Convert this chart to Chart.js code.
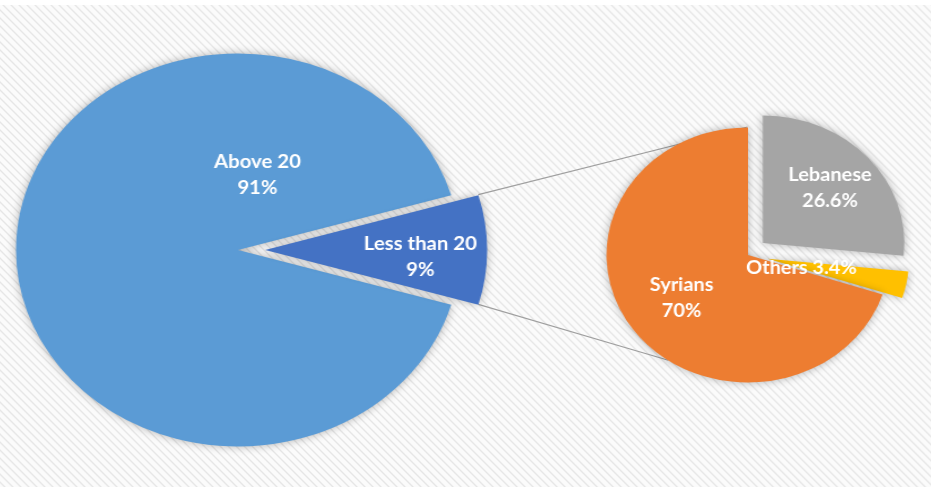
<!DOCTYPE html>
<html lang="en">
<head>
<meta charset="UTF-8">
<title>Age and nationality breakdown</title>
<style>
  html, body { margin: 0; height: 100%; overflow: hidden; }
  body { position: relative; width: 931px; height: 487px; background: #fff; }
  .stripes {
    position: absolute; left: 0; top: 5px; width: 931px; height: 482px;
    background: repeating-linear-gradient(45deg, #fbfbfb 0px, #fbfbfb 2px, #e6e6e6 3.4px, #fbfbfb 4.8px, #fbfbfb 5.66px);
  }
  #links { position: absolute; left: 0; top: 0; z-index: 1; }
  .pie { position: absolute; z-index: 2; }
</style>
<script src="https://cdn.jsdelivr.net/npm/chart.js"></script>
</head>
<body>
<div class="stripes"></div>
<canvas id="links" width="931" height="487"></canvas>
<div class="pie" id="mainBox"><canvas id="mainPie"></canvas></div>
<div class="pie" id="subBox"><canvas id="subPie"></canvas></div>

<script>
// age split (main pie)
const mainLabels = ['Above 20', 'Less than 20'];
const mainValues = [91, 9];
// nationality of the "less than 20" group (secondary pie)
const subLabels = ['Lebanese', 'Others', 'Syrians'];
const subValues = [26.6, 3.4, 70];

const mainColors = ['#5B9BD5', '#4472C4'];
const subColors = ['#A5A5A5', '#FFC000', '#ED7D31'];

// where each pie sits on the page (the original image is stretched sideways)
const mainBox = { left: 3, top: 14.5, size: 470, scaleX: 1.13 };
const subBox = { left: 597.5, top: 104.5, size: 300, scaleX: 1.11 };

function placeBox(id, b) {
    const el = document.getElementById(id);
    el.style.left = b.left + 'px';
    el.style.top = b.top + 'px';
    el.style.width = b.size + 'px';
    el.style.height = b.size + 'px';
    el.style.transform = 'scaleX(' + b.scaleX + ')';
}
placeBox('mainBox', mainBox);
placeBox('subBox', subBox);

// pull exploded slices straight out from the centre
const explode = {
    id: 'explode',
    afterUpdate(chart) {
        const ds = chart.data.datasets[0];
        chart.getDatasetMeta(0).data.forEach((arc, i) => {
            const d = (ds.explode || [])[i] || 0;
            if (!d) return;
            const mid = (arc.startAngle + arc.endAngle) / 2;
            arc.x += Math.cos(mid) * d;
            arc.y += Math.sin(mid) * d;
        });
    }
};

// soft glow under the slices
const shadow = {
    id: 'shadow',
    beforeDatasetsDraw(chart) {
        const c = chart.ctx;
        c.save();
        c.shadowColor = 'rgba(0,0,0,0.3)';
        c.shadowBlur = 9;
    },
    afterDatasetsDraw(chart) {
        chart.ctx.restore();
    }
};

const sliceLabels = {
    id: 'sliceLabels',
    afterDatasetsDraw(chart, args, opts) {
        const ctx = chart.ctx;
        const ds = chart.data.datasets[0];
        ctx.save();
        ctx.fillStyle = '#fff';
        ctx.font = 'bold 18px Lato, "Open Sans", sans-serif';
        ctx.textAlign = 'center';
        ctx.textBaseline = 'middle';
        chart.getDatasetMeta(0).data.forEach((arc, i) => {
            const spot = opts.spots[i];
            const a = spot.angle == null ? (arc.startAngle + arc.endAngle) / 2 : (spot.angle - 90) * Math.PI / 180;
            const r = arc.outerRadius * spot.frac;
            const x = arc.x + r * Math.cos(a);
            const y = arc.y + r * Math.sin(a);
            const name = chart.data.labels[i];
            const pct = ds.data[i] + '%';
            const lines = spot.inline ? [name + ' ' + pct] : [name, pct];
            lines.forEach((t, j) => ctx.fillText(t, x, y + (j - (lines.length - 1) / 2) * 26));
        });
        ctx.restore();
    }
};

const baseOptions = {
    responsive: true,
    maintainAspectRatio: false,
    animation: false,
    events: [],
    layout: { padding: 0 },
    plugins: { legend: { display: false }, tooltip: { enabled: false } }
};

const mainChart = new Chart(document.getElementById('mainPie'), {
    type: 'pie',
    data: {
        labels: mainLabels,
        datasets: [{
            data: mainValues,
            backgroundColor: mainColors,
            borderWidth: 0,
            radius: 196.5,
            explode: [0, 24]
        }]
    },
    options: {
        ...baseOptions,
        rotation: 106.2,
        plugins: {
            ...baseOptions.plugins,
            sliceLabels: { spots: [{ angle: 13, frac: 0.39 }, { angle: 93, frac: 0.70 }] }
        }
    },
    plugins: [explode, shadow, sliceLabels]
});

const subChart = new Chart(document.getElementById('subPie'), {
    type: 'pie',
    data: {
        labels: subLabels,
        datasets: [{
            data: subValues,
            backgroundColor: subColors,
            borderWidth: 0,
            radius: 127.5,
            explode: [18, 18, 0]
        }]
    },
    options: {
        ...baseOptions,
        rotation: 0,
        plugins: {
            ...baseOptions.plugins,
            sliceLabels: { spots: [{ angle: null, frac: 0.64 }, { angle: 107, frac: 0.25, inline: true }, { angle: null, frac: 0.58 }] }
        }
    },
    plugins: [explode, shadow, sliceLabels]
});

// connector lines from the small slice to the secondary pie
function toPage(box, chart, px, py) {
    const cx = box.left + box.size / 2;
    return [cx + (px - chart.width / 2) * box.scaleX, box.top + py];
}

function drawLinks() {
    const small = mainChart.getDatasetMeta(0).data[1];
    const big = subChart.getDatasetMeta(0).data[2];
    const lowAngle = (214 - 90) * Math.PI / 180;
    const fromTop = toPage(mainBox, mainChart,
        small.x + small.outerRadius * Math.cos(small.startAngle), small.y + small.outerRadius * Math.sin(small.startAngle));
    const fromBot = toPage(mainBox, mainChart,
        small.x + small.outerRadius * Math.cos(small.endAngle), small.y + small.outerRadius * Math.sin(small.endAngle));
    const toTop = toPage(subBox, subChart,
        big.x + big.outerRadius * Math.cos(big.endAngle), big.y + big.outerRadius * Math.sin(big.endAngle));
    const toBot = toPage(subBox, subChart,
        big.x + big.outerRadius * Math.cos(lowAngle), big.y + big.outerRadius * Math.sin(lowAngle));

    const ctx = document.getElementById('links').getContext('2d');
    ctx.clearRect(0, 0, 931, 487);
    ctx.strokeStyle = '#a0a0a0';
    ctx.lineWidth = 1.2;
    ctx.beginPath();
    ctx.moveTo(fromTop[0], fromTop[1]);
    ctx.lineTo(toTop[0], toTop[1]);
    ctx.moveTo(fromBot[0], fromBot[1]);
    ctx.lineTo(toBot[0], toBot[1]);
    ctx.stroke();
}
drawLinks();
requestAnimationFrame(drawLinks);
</script>
</body>
</html>
